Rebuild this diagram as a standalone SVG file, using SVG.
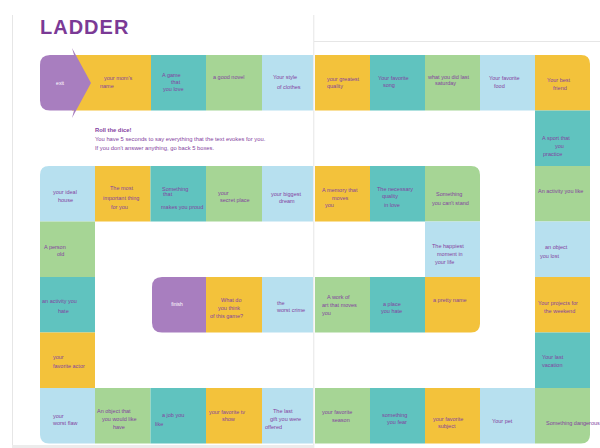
<svg xmlns="http://www.w3.org/2000/svg" width="600" height="448" viewBox="0 0 600 448">
<style>
.y{fill:#f3c23b}.t{fill:#60c3bf}.g{fill:#a6d595}.b{fill:#b7e0ef}.p{fill:#a87ebf}
text{font-family:"Liberation Sans",Arial,sans-serif}
.c{font-size:5.5px;fill:#8442a0}
.w{font-size:5px;fill:#ffffff}
.r{font-size:5.8px;fill:#8442a0}
.edge{stroke:#e6e6e6;stroke-width:1;fill:none}
</style>
<rect width="600" height="448" fill="#ffffff"/>
<g id="page-edges">
<line class="edge" x1="12.5" y1="15" x2="12.5" y2="448"/>
<line class="edge" x1="313.8" y1="15" x2="313.8" y2="448"/>
<line class="edge" x1="314" y1="41.5" x2="600" y2="41.5"/>
<rect x="12" y="445" width="302" height="3" fill="#ececec"/>
</g>
<text x="40" y="34" font-size="20" font-weight="bold" fill="#7b3a96" letter-spacing="1">LADDER</text>
<g id="rules">
<text class="r" x="95" y="132" font-weight="bold">Roll the dice!</text>
<text class="r" x="95" y="141">You have 5 seconds to say everything that the text evokes for you.</text>
<text class="r" x="95" y="150">If you don't answer anything, go back 5 boxes.</text>
</g>
<!-- Row 1 -->
<g id="c-mom"><rect class="y" x="72" y="55" width="79" height="55.5"/><text class="c" x="104" y="80">your mom's</text><text class="c" x="100" y="88">name</text></g>
<g id="start"><path class="p" d="M50,55 H74 L72,48 L91,83 L72,118 L74,110.5 H50 Q40,110.5 40,100.5 V65 Q40,55 50,55 Z"/><text class="w" x="60" y="84.5" text-anchor="middle">exit</text></g>
<g id="c-game"><rect class="t" x="151" y="55" width="55" height="55.5"/><text class="c" x="162" y="77">A game</text><text class="c" x="171" y="84">that</text><text class="c" x="163" y="91">you love</text></g>
<g id="c-novel"><rect class="g" x="206" y="55" width="56" height="55.5"/><text class="c" x="213" y="79">a good novel</text></g>
<g id="c-style"><rect class="b" x="262" y="55" width="51" height="55.5"/><text class="c" x="273" y="79">Your style</text><text class="c" x="277" y="89">of clothes</text></g>
<g id="c-quality"><rect class="y" x="315" y="55" width="55" height="55.5"/><text class="c" x="327" y="81">your greatest</text><text class="c" x="327" y="88">quality</text></g>
<g id="c-song"><rect class="t" x="370" y="55" width="55" height="55.5"/><text class="c" x="378" y="80">Your favorite</text><text class="c" x="383" y="87">song</text></g>
<g id="c-saturday"><rect class="g" x="425" y="55" width="55" height="55.5"/><text class="c" x="428" y="79">what you did last</text><text class="c" x="435" y="85">saturday</text></g>
<g id="c-food"><rect class="b" x="480" y="55" width="55" height="55.5"/><text class="c" x="489" y="80">Your favorite</text><text class="c" x="494" y="88">food</text></g>
<g id="c-friend"><path class="y" d="M535,55 H581 Q590,55 590,64 V110.5 H535 Z"/><text class="c" x="547" y="82">Your best</text><text class="c" x="553" y="90">friend</text></g>
<!-- Right column -->
<g id="c-sport"><rect class="t" x="535" y="110.5" width="55" height="55.5"/><text class="c" x="542" y="140">A sport that</text><text class="c" x="555" y="148">you</text><text class="c" x="543" y="156">practice</text></g>
<g id="c-activity-like"><rect class="g" x="535" y="166" width="55" height="55.5"/><text class="c" x="538" y="193">An activity you like</text></g>
<g id="c-object-lost"><rect class="b" x="535" y="221.5" width="55" height="55.5"/><text class="c" x="545" y="249">an object</text><text class="c" x="540" y="258">you lost</text></g>
<g id="c-projects"><rect class="y" x="535" y="277" width="55" height="55.5"/><text class="c" x="538" y="305">Your projects for</text><text class="c" x="544" y="313">the weekend</text></g>
<g id="c-vacation"><rect class="t" x="535" y="332.5" width="55" height="55.5"/><text class="c" x="542" y="359">Your last</text><text class="c" x="542" y="367">vacation</text></g>
<!-- Row 2 -->
<g id="c-house"><path class="b" d="M49,166 H95 V221.5 H40 V175 Q40,166 49,166 Z"/><text class="c" x="53" y="194">your ideal</text><text class="c" x="58" y="202">house</text></g>
<g id="c-important"><rect class="y" x="95" y="166" width="55.5" height="55.5"/><text class="c" x="110" y="190">The most</text><text class="c" x="103" y="200">important thing</text><text class="c" x="111" y="209">for you</text></g>
<g id="c-proud"><rect class="t" x="150.5" y="166" width="55.5" height="55.5"/><text class="c" x="162" y="191">Something</text><text class="c" x="163" y="196">that</text><text class="c" x="161" y="209">makes you proud</text></g>
<g id="c-secret"><rect class="g" x="206" y="166" width="56" height="55.5"/><text class="c" x="218" y="195">your</text><text class="c" x="220" y="202">secret place</text></g>
<g id="c-dream"><rect class="b" x="262" y="166" width="51" height="55.5"/><text class="c" x="271" y="196">your biggest</text><text class="c" x="279" y="203">dream</text></g>
<g id="c-memory"><rect class="y" x="315" y="166" width="55" height="55.5"/><text class="c" x="322" y="192">A memory that</text><text class="c" x="332" y="200">moves</text><text class="c" x="325" y="207">you</text></g>
<g id="c-necessary"><rect class="t" x="370" y="166" width="55" height="55.5"/><text class="c" x="377" y="191">The necessary</text><text class="c" x="382" y="198">quality</text><text class="c" x="384" y="207" font-size="4.5">in love</text></g>
<g id="c-stand"><path class="g" d="M425,166 H471 Q480,166 480,175 V221.5 H425 Z"/><text class="c" x="436" y="196">Something</text><text class="c" x="432" y="205">you can't stand</text></g>
<!-- Row 3 -->
<g id="c-person"><rect class="g" x="40" y="221.5" width="55" height="55.5"/><text class="c" x="44" y="249">A person</text><text class="c" x="57" y="256">old</text></g>
<g id="c-happiest"><rect class="b" x="425" y="221.5" width="55" height="55.5"/><text class="c" x="432" y="248">The happiest</text><text class="c" x="437" y="256">moment in</text><text class="c" x="435" y="264">your life</text></g>
<!-- Row 4 -->
<g id="c-activity-hate"><rect class="t" x="40" y="277" width="55" height="55.5"/><text class="c" x="42" y="303">an activity you</text><text class="c" x="58" y="313">hate</text></g>
<g id="finish"><path class="p" d="M162,277 H206 V332.5 H162 Q152,332.5 152,322.5 V287 Q152,277 162,277 Z"/><text class="w" x="177" y="306" text-anchor="middle">finish</text></g>
<g id="c-think"><rect class="y" x="206" y="277" width="56" height="55.5"/><text class="c" x="221" y="302">What do</text><text class="c" x="218" y="310">you think</text><text class="c" x="210" y="318">of this game?</text></g>
<g id="c-crime"><rect class="b" x="262" y="277" width="51" height="55.5"/><text class="c" x="277" y="305">the</text><text class="c" x="277" y="312">worst crime</text></g>
<g id="c-art"><rect class="g" x="315" y="277" width="55" height="55.5"/><text class="c" x="327" y="299">A work of</text><text class="c" x="322" y="307">art that moves</text><text class="c" x="322" y="315">you</text></g>
<g id="c-place-hate"><rect class="t" x="370" y="277" width="55" height="55.5"/><text class="c" x="383" y="306">a place</text><text class="c" x="381" y="313">you hate</text></g>
<g id="c-name"><path class="y" d="M425,277 H480 V323.5 Q480,332.5 471,332.5 H425 Z"/><text class="c" x="433" y="302">a pretty name</text></g>
<!-- Row 5 -->
<g id="c-actor"><rect class="y" x="40" y="332.5" width="55" height="55.5"/><text class="c" x="53" y="359">your</text><text class="c" x="53" y="368">favorite actor</text></g>
<!-- Row 6 -->
<g id="c-flaw"><path class="b" d="M40,388 H95 V443.5 H49 Q40,443.5 40,434.5 Z"/><text class="c" x="53" y="418">your</text><text class="c" x="53" y="425">worst flaw</text></g>
<g id="c-object-like"><rect class="g" x="95" y="388" width="55.5" height="55.5"/><text class="c" x="97" y="413">An object that</text><text class="c" x="102" y="421">you would like</text><text class="c" x="113" y="429">have</text></g>
<g id="c-job"><rect class="t" x="150.5" y="388" width="55.5" height="55.5"/><text class="c" x="162" y="417">a job you</text><text class="c" x="155" y="426">like</text></g>
<g id="c-tv"><rect class="y" x="206" y="388" width="56" height="55.5"/><text class="c" x="209" y="414">your favorite tv</text><text class="c" x="222" y="421">show</text></g>
<g id="c-gift"><rect class="b" x="262" y="388" width="51" height="55.5"/><text class="c" x="273" y="413">The last</text><text class="c" x="270" y="421">gift you were</text><text class="c" x="265" y="429">offered</text></g>
<g id="c-season"><rect class="g" x="315" y="388" width="55" height="55.5"/><text class="c" x="322" y="414">your favorite</text><text class="c" x="332" y="422">season</text></g>
<g id="c-fear"><rect class="t" x="370" y="388" width="55" height="55.5"/><text class="c" x="382" y="417">something</text><text class="c" x="387" y="424">you fear</text></g>
<g id="c-subject"><rect class="y" x="425" y="388" width="55" height="55.5"/><text class="c" x="433" y="421">your favorite</text><text class="c" x="438" y="428">subject</text></g>
<g id="c-pet"><rect class="b" x="480" y="388" width="55" height="55.5"/><text class="c" x="492" y="423">Your pet</text></g>
<g id="c-dangerous"><path class="g" d="M535,388 H590 V434.5 Q590,443.5 581,443.5 H535 Z"/><text class="c" x="546" y="425">Something dangerous</text></g>
</svg>
